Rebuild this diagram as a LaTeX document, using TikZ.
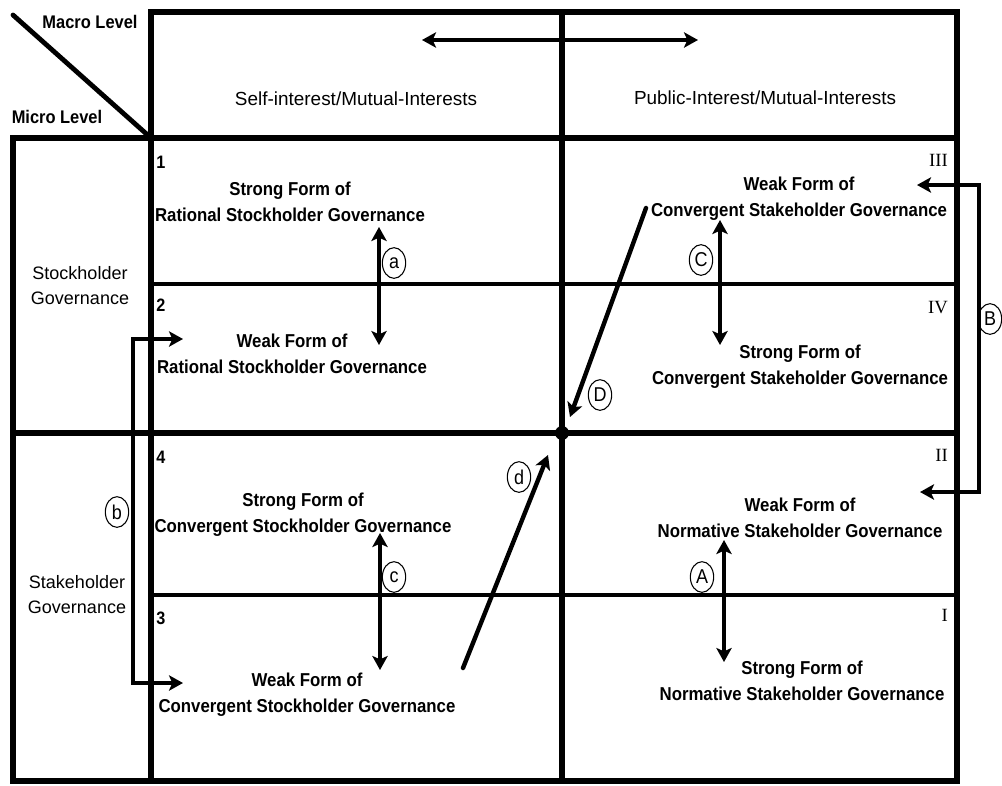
\documentclass[tikz,border=0pt]{standalone}
\usepackage{fontspec}
\setmainfont{Liberation Sans}
\newfontfamily\narrowsans[FakeStretch=0.9]{Liberation Sans}
\newfontfamily\numeralfont{Liberation Serif}
\usetikzlibrary{arrows.meta,shapes.geometric}
\begin{document}
\begin{tikzpicture}[x=0.75pt,y=-0.75pt,
  >={Stealth[length=10.5pt,width=11.5pt,inset=2.5pt]},
  gridbold/.style={line width=4.9pt},
  gridlight/.style={line width=3pt},
  link/.style={line width=3.3pt},
  bracket/.style={line width=2.6pt,line join=miter},
  celltext/.style={font=\narrowsans\bfseries\fontsize{14}{19.5}\selectfont,align=center,inner sep=0pt},
  headtext/.style={font=\fontsize{14.2}{17}\selectfont,inner sep=0pt},
  sidetext/.style={font=\fontsize{13.5}{18.8}\selectfont,align=center,inner sep=0pt},
  leveltext/.style={font=\narrowsans\bfseries\fontsize{13.7}{15}\selectfont,inner sep=0pt},
  cellno/.style={font=\narrowsans\bfseries\fontsize{13.5}{14}\selectfont,anchor=west,inner sep=0pt},
  roman/.style={font=\numeralfont\fontsize{14}{16}\selectfont,anchor=east,inner sep=0pt},
  tag/.style={draw,ellipse,line width=0.8pt,inner sep=0pt,minimum width=17.5pt,minimum height=23pt,font=\narrowsans\fontsize{15}{15}\selectfont}
]
\useasboundingbox (0,0) rectangle (1002,785);

% frame and grid
\draw[gridbold] (151,12) rectangle (957,781);
\draw[gridbold] (13,138) rectangle (957,781);
\draw[gridbold] (562,12) -- (562,781);
\draw[gridbold] (13,433) -- (957,433);
\draw[gridlight] (151,284) -- (957,284);
\draw[gridlight] (151,595) -- (957,595);
\draw[line width=3.6pt,line cap=round] (13,15) -- (151,138);

% corner labels
\node[leveltext] (macro) at (90,22) {Macro Level};
\node[leveltext] (micro) at (57,117) {Micro Level};

% column headings
\node[headtext] (selfint) at (356,99) {Self-interest/Mutual-Interests};
\node[headtext] (pubint) at (765,98) {Public-Interest/Mutual-Interests};
\coordinate (hl) at (422,40);
\coordinate (hr) at (698,40);
\draw[link,<->] (hl) -- (hr);

% row headings
\node[sidetext] (stockgov) at (80,286) {Stockholder\\Governance};
\node[sidetext] (stakegov) at (77,595) {Stakeholder\\Governance};

% cell numbers
\node[cellno] (n1) at (156,162) {1};
\node[cellno] (n2) at (156,305) {2};
\node[cellno] (n4) at (156,457) {4};
\node[cellno] (n3) at (156,618) {3};
\node[roman] (r3) at (948,160) {III};
\node[roman] (r4) at (948,308) {IV};
\node[roman] (r2) at (948,455) {II};
\node[roman] (r1) at (948,615) {I};

% cell contents
\node[celltext] (c1) at (290,202) {Strong Form of\\Rational Stockholder Governance};
\node[celltext] (c2) at (292,354) {Weak Form of\\Rational Stockholder Governance};
\node[celltext] (c4) at (303,515) {Strong Form of\\Convergent Stockholder Governance};
\node[celltext] (c3) at (307,695) {Weak Form of\\Convergent Stockholder Governance};
\node[celltext] (cIII) at (799,199) {Weak Form of\\Convergent Stakeholder Governance};
\node[celltext] (cIV) at (800,367) {Strong Form of\\Convergent Stakeholder Governance};
\node[celltext] (cII) at (800,518) {Weak Form of\\Normative Stakeholder Governance};
\node[celltext] (cI) at (802,681) {Strong Form of\\Normative Stakeholder Governance};

% arrow end points
\coordinate (a1) at (379,227);
\coordinate (a2) at (379,345);
\coordinate (cc1) at (380,533);
\coordinate (cc2) at (380,670);
\coordinate (C1) at (720,220);
\coordinate (C2) at (720,345);
\coordinate (A1) at (724,540);
\coordinate (A2) at (724,662);
\coordinate (Ds) at (646,208);
\coordinate (De) at (570,417);
\coordinate (ds) at (463,668);
\coordinate (de) at (548,455);
\coordinate (bt) at (183,339);
\coordinate (bb) at (183,683);
\coordinate (Bt) at (917,185);
\coordinate (Bb) at (920,492);

% centre point
\node[circle,fill,inner sep=0pt,minimum size=10.5pt] (hub) at (562,433) {};

% vertical double arrows
\draw[link,<->] (a1) -- (a2);
\draw[link,<->] (cc1) -- (cc2);
\draw[link,<->] (C1) -- (C2);
\draw[link,<->] (A1) -- (A2);

% diagonal arrows towards the centre
\draw[link,->,line cap=round] (Ds) -- (De);
\draw[link,->,line cap=round] (ds) -- (de);

% side brackets
\draw[bracket,<->] (bt) -- (133,339) -- (133,683) -- (bb);
\draw[bracket,<->] (Bt) -- (979,185) -- (979,492) -- (Bb);

% arrow tags
\node[tag] (ta) at (394,263) {a};
\node[tag] (tb) at (117,512) {b};
\node[tag] (tc) at (394,577) {c};
\node[tag] (td) at (519,477) {d};
\node[tag] (tA) at (702,577) {A};
\node[tag] (tB) at (990,319) {B};
\node[tag] (tC) at (701,260) {C};
\node[tag] (tD) at (600,395) {D};
\end{tikzpicture}
\end{document}
